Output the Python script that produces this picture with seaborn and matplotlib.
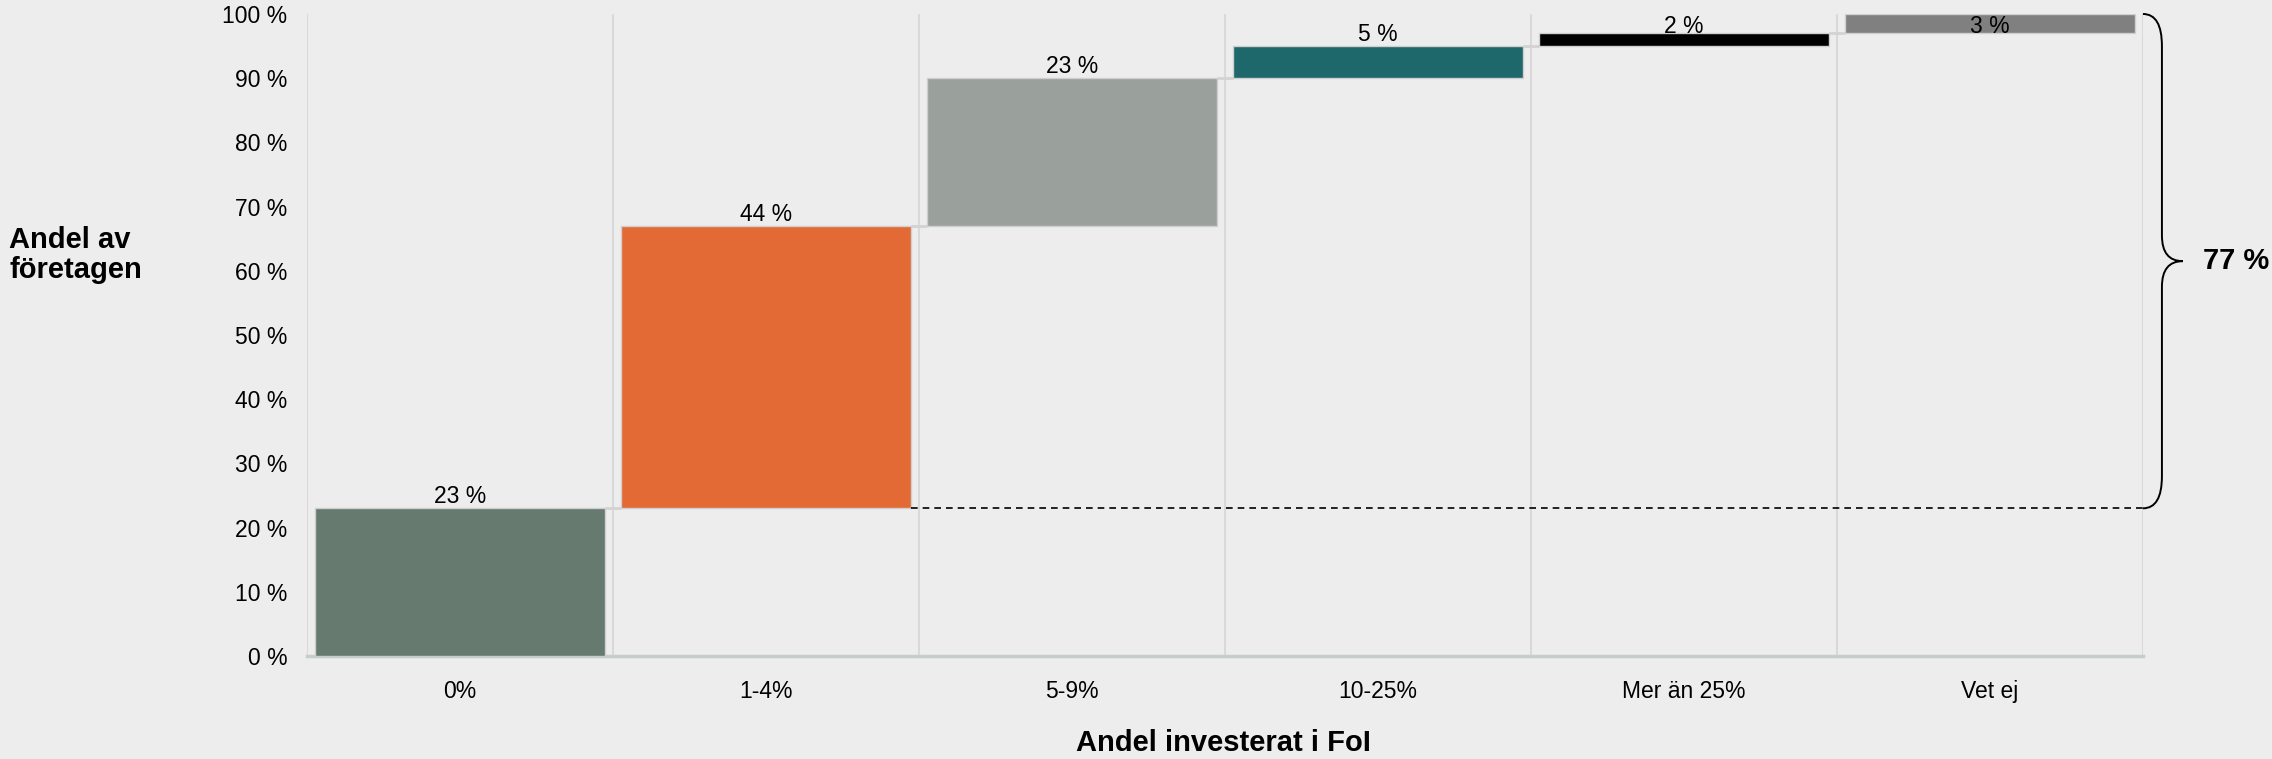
import matplotlib
matplotlib.use("Agg")
import matplotlib.pyplot as plt
from matplotlib.path import Path
from matplotlib.patches import PathPatch
import pandas as pd
import seaborn as sns

categories = ["0%", "1-4%", "5-9%", "10-25%", "Mer än 25%", "Vet ej"]
shares = [23, 44, 23, 5, 2, 3]
bar_colors = ["#667a70", "#e36a35", "#9aa09b", "#1e686c", "#000000", "#808080"]
y_ticks = [0, 10, 20, 30, 40, 50, 60, 70, 80, 90, 100]
bracket_label = "77 %"

df = pd.DataFrame({"cat": categories, "share": shares, "color": bar_colors})
df["bottom"] = df["share"].cumsum() - df["share"]
df["top"] = df["bottom"] + df["share"]

sns.set_theme(style="white")
plt.rcParams["font.family"] = ["Liberation Sans", "DejaVu Sans"]
bg = "#ededed"

fig = plt.figure(figsize=(22.72, 7.59), dpi=100, facecolor=bg)
ax = fig.add_axes([0.1351, 0.1357, 0.8081, 0.8459], facecolor=bg)

w = 0.945
# waterfall: one seaborn bar per step, stacked on the running total
for _, r in df.iterrows():
    sns.barplot(x=[r["cat"]], y=[r["share"]], order=categories, bottom=r["bottom"],
                color=r["color"], saturation=1, width=w, edgecolor="#cfcfcf",
                linewidth=1, ax=ax, zorder=3)

ax.set_xlim(-0.5, len(categories) - 0.5)
ax.set_ylim(0, 100)

# category separators
ax.vlines([i - 0.5 for i in range(len(categories) + 1)], 0, 100,
          color="#d9d9d9", lw=1.5, zorder=1)
# connectors between steps
for i in range(len(categories) - 1):
    ax.hlines(df["top"][i], i + w / 2, i + 1 - w / 2, color="#d3d3d3", lw=2, zorder=2)

for i, r in df.iterrows():
    ax.text(i, min(r["top"] + 0.8, 97), f"{r['share']} %", ha="center", va="baseline",
            fontsize=16.5, color="black", zorder=5)

# dashed reference line from first step to the bracket
y0 = df["top"][0]
ax.hlines(y0, 1 + w / 2, 5.5, color="black", lw=1.2, linestyles=(0, (4, 3)),
          zorder=4, clip_on=False)

# curly brace 23 % -> 100 %
xs, xv, xt = 5.5, 5.562, 5.63
ym = (y0 + 100) / 2
verts = [(xs, 100), (xv, 100), (xv, 95),
         (xv, ym + 4), (xv, ym), (xt, ym),
         (xt, ym), (xv, ym), (xv, ym - 4),
         (xv, y0 + 5), (xv, y0), (xs, y0)]
codes = [Path.MOVETO, Path.CURVE3, Path.CURVE3,
         Path.LINETO, Path.CURVE3, Path.CURVE3,
         Path.MOVETO, Path.CURVE3, Path.CURVE3,
         Path.LINETO, Path.CURVE3, Path.CURVE3]
ax.add_patch(PathPatch(Path(verts, codes), fill=False, lw=1.4, color="black",
                       clip_on=False, zorder=4))
ax.text(5.696, ym, bracket_label, ha="left", va="center", fontsize=21,
        fontweight="bold", color="black", clip_on=False)

ax.set_yticks(y_ticks)
ax.set_yticklabels([f"{v} %" for v in y_ticks])
ax.tick_params(axis="y", length=0, pad=14, labelsize=16.5, labelcolor="black")
ax.tick_params(axis="x", length=0, pad=17, labelsize=16.5, labelcolor="black")
ax.set_xlabel("")
ax.set_ylabel("")

for s in ["left", "right", "top"]:
    ax.spines[s].set_visible(False)
ax.spines["bottom"].set_color("#c5cec9")
ax.spines["bottom"].set_linewidth(2.5)

fig.text(0.004, 0.664, "Andel av\nföretagen", ha="left", va="center", fontsize=21,
         fontweight="bold", linespacing=1.05, color="black")
fig.text(0.5385, 0.021, "Andel investerat i FoI", ha="center", va="center",
         fontsize=21, fontweight="bold", color="black")

fig.savefig("out.png", dpi=100, facecolor=bg)
